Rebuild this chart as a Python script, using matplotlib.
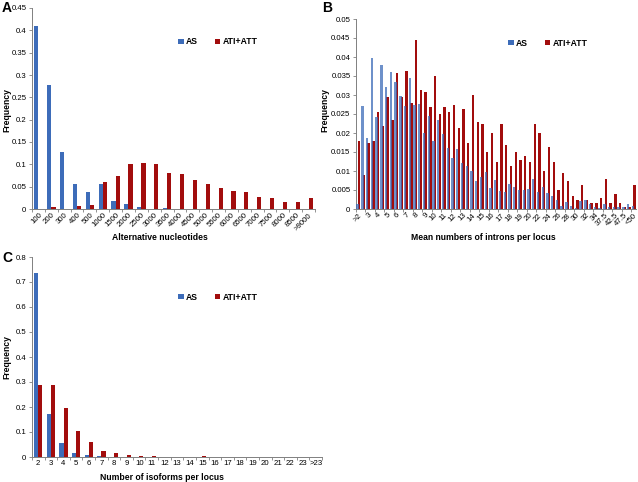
import matplotlib
matplotlib.use("Agg")
import matplotlib.pyplot as plt
import numpy as np
from matplotlib.patches import Patch
from matplotlib.ticker import FuncFormatter, MultipleLocator, FixedLocator

plt.rcParams['font.family'] = ['Liberation Sans', 'DejaVu Sans']

BLUE = '#3d6cb9'
RED = '#a20d0d'

# ---------------- Panel A data ----------------
cats_a = ["100", "200", "300", "400", "500", "1000", "1500", "2000", "2500", "3000",
          "3500", "4000", "4500", "5000", "5500", "6000", "6500", "7000", "7500",
          "8000", "8500", ">9000"]
as_a = [0.409, 0.278, 0.128, 0.056, 0.038, 0.057, 0.017, 0.011, 0.005, 0.001,
        0.002, 0, 0, 0, 0, 0, 0, 0, 0, 0, 0, 0]
ati_a = [0.0, 0.004, 0.001, 0.007, 0.010, 0.061, 0.074, 0.100, 0.103, 0.101,
         0.081, 0.078, 0.065, 0.056, 0.046, 0.041, 0.038, 0.026, 0.025,
         0.015, 0.015, 0.024]

# ---------------- Panel B data ----------------
ticklabels_b = [">2", "", "3", "", "4", "", "5", "", "6", "", "7", "", "8", "", "9", "",
                "10", "", "11", "", "12", "", "13", "", "14", "", "15", "", "16", "",
                "17", "", "18", "", "19", "", "20", "", "22", "", "24", "", "26", "",
                "28", "", "30", "", "32", "", "34", "", "37.5", "", "42.5", "", "47.5", "",
                "<50"]
as_b = [0.0012, 0.0271, 0.0187, 0.0397, 0.0242, 0.0380, 0.0322, 0.0361, 0.0335, 0.0298,
        0.0271, 0.0346, 0.0275, 0.0277, 0.0200, 0.0245, 0.0180, 0.0235, 0.0197, 0.0161,
        0.0135, 0.0158, 0.0122, 0.0113, 0.0101, 0.0075, 0.0083, 0.0098, 0.0056, 0.0077,
        0.0048, 0.0045, 0.0066, 0.0057, 0.0051, 0.0051, 0.0053, 0.0080, 0.0045, 0.0057,
        0.0042, 0.0035, 0.0024, 0.0008, 0.0018, 0.0008, 0.0003, 0.0020, 0.0024, 0.0012,
        0.0006, 0.0003, 0.0012, 0.0005, 0.0005, 0.0005, 0.0005, 0.0012, 0.0008]
ati_b = [0.0178, 0.0090, 0.0173, 0.0179, 0.0256, 0.0218, 0.0295, 0.0234, 0.0357, 0.0295,
         0.0362, 0.0279, 0.0445, 0.0312, 0.0307, 0.0268, 0.0351, 0.0251, 0.0268, 0.0256,
         0.0273, 0.0212, 0.0262, 0.0173, 0.0301, 0.0229, 0.0224, 0.0151, 0.0201, 0.0123,
         0.0223, 0.0168, 0.0112, 0.0151, 0.0129, 0.0140, 0.0123, 0.0224, 0.0201, 0.0101,
         0.0162, 0.0123, 0.0050, 0.0095, 0.0073, 0.0033, 0.0023, 0.0062, 0.0023, 0.0017,
         0.0017, 0.0028, 0.0079, 0.0017, 0.0039, 0.0017, 0.0005, 0.0005, 0.0062]

# ---------------- Panel C data ----------------
cats_c = ["2", "3", "4", "5", "6", "7", "8", "9", "10", "11", "12", "13", "14", "15",
          "16", "17", "18", "19", "20", "21", "22", "23", ">23"]
as_c = [0.738, 0.173, 0.056, 0.018, 0.007, 0.005, 0.002, 0.001, 0.0005, 0.0003, 0.0002,
        0, 0, 0, 0, 0, 0, 0, 0, 0, 0, 0, 0]
ati_c = [0.288, 0.290, 0.198, 0.104, 0.059, 0.026, 0.017, 0.009, 0.004, 0.005, 0.002,
         0.001, 0.0005, 0.003, 0.001, 0.0005, 0, 0, 0, 0.0005, 0, 0, 0]

W, H = 638, 482
fig = plt.figure(figsize=(W / 100, H / 100), dpi=100)


def px_axes(l, t, r, b):
    return fig.add_axes([l / W, 1 - b / H, (r - l) / W, (b - t) / H])


fmt = FuncFormatter(lambda v, p: ('%g' % round(v, 4)))
TICK_FS = 5.6
LAB_FS = 6.2


def style(ax, n, ymax, ystep):
    for s in ['top', 'right']:
        ax.spines[s].set_visible(False)
    for s in ['left', 'bottom']:
        ax.spines[s].set_color('#808080')
        ax.spines[s].set_linewidth(0.7)
    ax.set_xlim(-0.5, n - 0.5)
    ax.set_ylim(0, ymax)
    ax.yaxis.set_major_locator(MultipleLocator(ystep))
    ax.yaxis.set_major_formatter(fmt)
    ax.tick_params(axis='y', labelsize=TICK_FS, length=2.5, width=0.6, color='#808080', pad=1.5)
    ax.xaxis.set_minor_locator(FixedLocator(np.arange(-0.5, n, 1.0)))
    ax.tick_params(axis='x', which='minor', length=2.5, width=0.6, color='#808080')
    ax.tick_params(axis='x', which='major', length=0, labelsize=TICK_FS, pad=2)


def legend(ax, x, y):
    h = [Patch(facecolor=BLUE, edgecolor='none'), Patch(facecolor=RED, edgecolor='none')]
    ax.legend(h, ['AS', 'ATI+ATT'], ncol=2, loc='center left',
              bbox_to_anchor=(x / W, 1 - y / H), bbox_transform=fig.transFigure,
              frameon=False, handlelength=0.65, handleheight=0.65, handletextpad=0.3,
              columnspacing=1.9, borderpad=0, borderaxespad=0,
              prop={'weight': 'bold', 'size': 6.2})


# ---------------- Panel A ----------------
axA = px_axes(32, 8, 315, 209)
xa = np.arange(len(cats_a))
bw = 0.33
axA.bar(xa - bw / 2, as_a, bw, color=BLUE)
axA.bar(xa + bw / 2, ati_a, bw, color=RED)
style(axA, len(cats_a), 0.45, 0.05)
axA.set_xticks(xa)
axA.set_xticklabels(cats_a, rotation=45, ha='right', va='top', rotation_mode='anchor')
legend(axA, 178, 42)
fig.text(160 / W, 1 - 238 / H, 'Alternative nucleotides', ha='center', va='center',
         fontsize=LAB_FS, fontweight='bold')
fig.text(7 / W, 1 - 110 / H, 'Frequency', ha='center', va='center', rotation=90,
         fontsize=LAB_FS, fontweight='bold')
fig.text(2 / W, 1 - 8 / H, 'A', ha='left', va='center', fontsize=10, fontweight='bold')

# ---------------- Panel B ----------------
axB = px_axes(356, 19, 636, 209)
xb = np.arange(len(as_b))
bwb = 0.5
axB.bar(xb + 0.16, ati_b, bwb, color=RED, zorder=2)
axB.bar(xb - 0.16, as_b, bwb, color=BLUE, alpha=0.75, zorder=3)
style(axB, len(as_b), 0.05, 0.005)
axB.set_xticks(xb)
axB.set_xticklabels(ticklabels_b, rotation=45, ha='right', va='top', rotation_mode='anchor')
axB.xaxis.set_minor_locator(FixedLocator(np.arange(-0.5, len(as_b), 2.0)))
legend(axB, 508, 43)
fig.text(483 / W, 1 - 238 / H, 'Mean numbers of introns per locus', ha='center', va='center',
         fontsize=LAB_FS, fontweight='bold')
fig.text(325 / W, 1 - 110 / H, 'Frequency', ha='center', va='center', rotation=90,
         fontsize=LAB_FS, fontweight='bold')
fig.text(322 / W, 1 - 8 / H, 'B', ha='left', va='center', fontsize=10, fontweight='bold')

# ---------------- Panel C ----------------
axC = px_axes(32, 257, 322, 457)
xc = np.arange(len(cats_c))
axC.bar(xc - bw / 2, as_c, bw, color=BLUE)
axC.bar(xc + bw / 2, ati_c, bw, color=RED)
style(axC, len(cats_c), 0.8, 0.1)
axC.set_xticks(xc)
axC.set_xticklabels(cats_c)
legend(axC, 178, 297)
fig.text(162 / W, 1 - 478 / H, 'Number of isoforms per locus', ha='center', va='center',
         fontsize=LAB_FS, fontweight='bold')
fig.text(7 / W, 1 - 357 / H, 'Frequency', ha='center', va='center', rotation=90,
         fontsize=LAB_FS, fontweight='bold')
fig.text(2 / W, 1 - 258 / H, 'C', ha='left', va='center', fontsize=10, fontweight='bold')

fig.savefig('out.png', dpi=100)
